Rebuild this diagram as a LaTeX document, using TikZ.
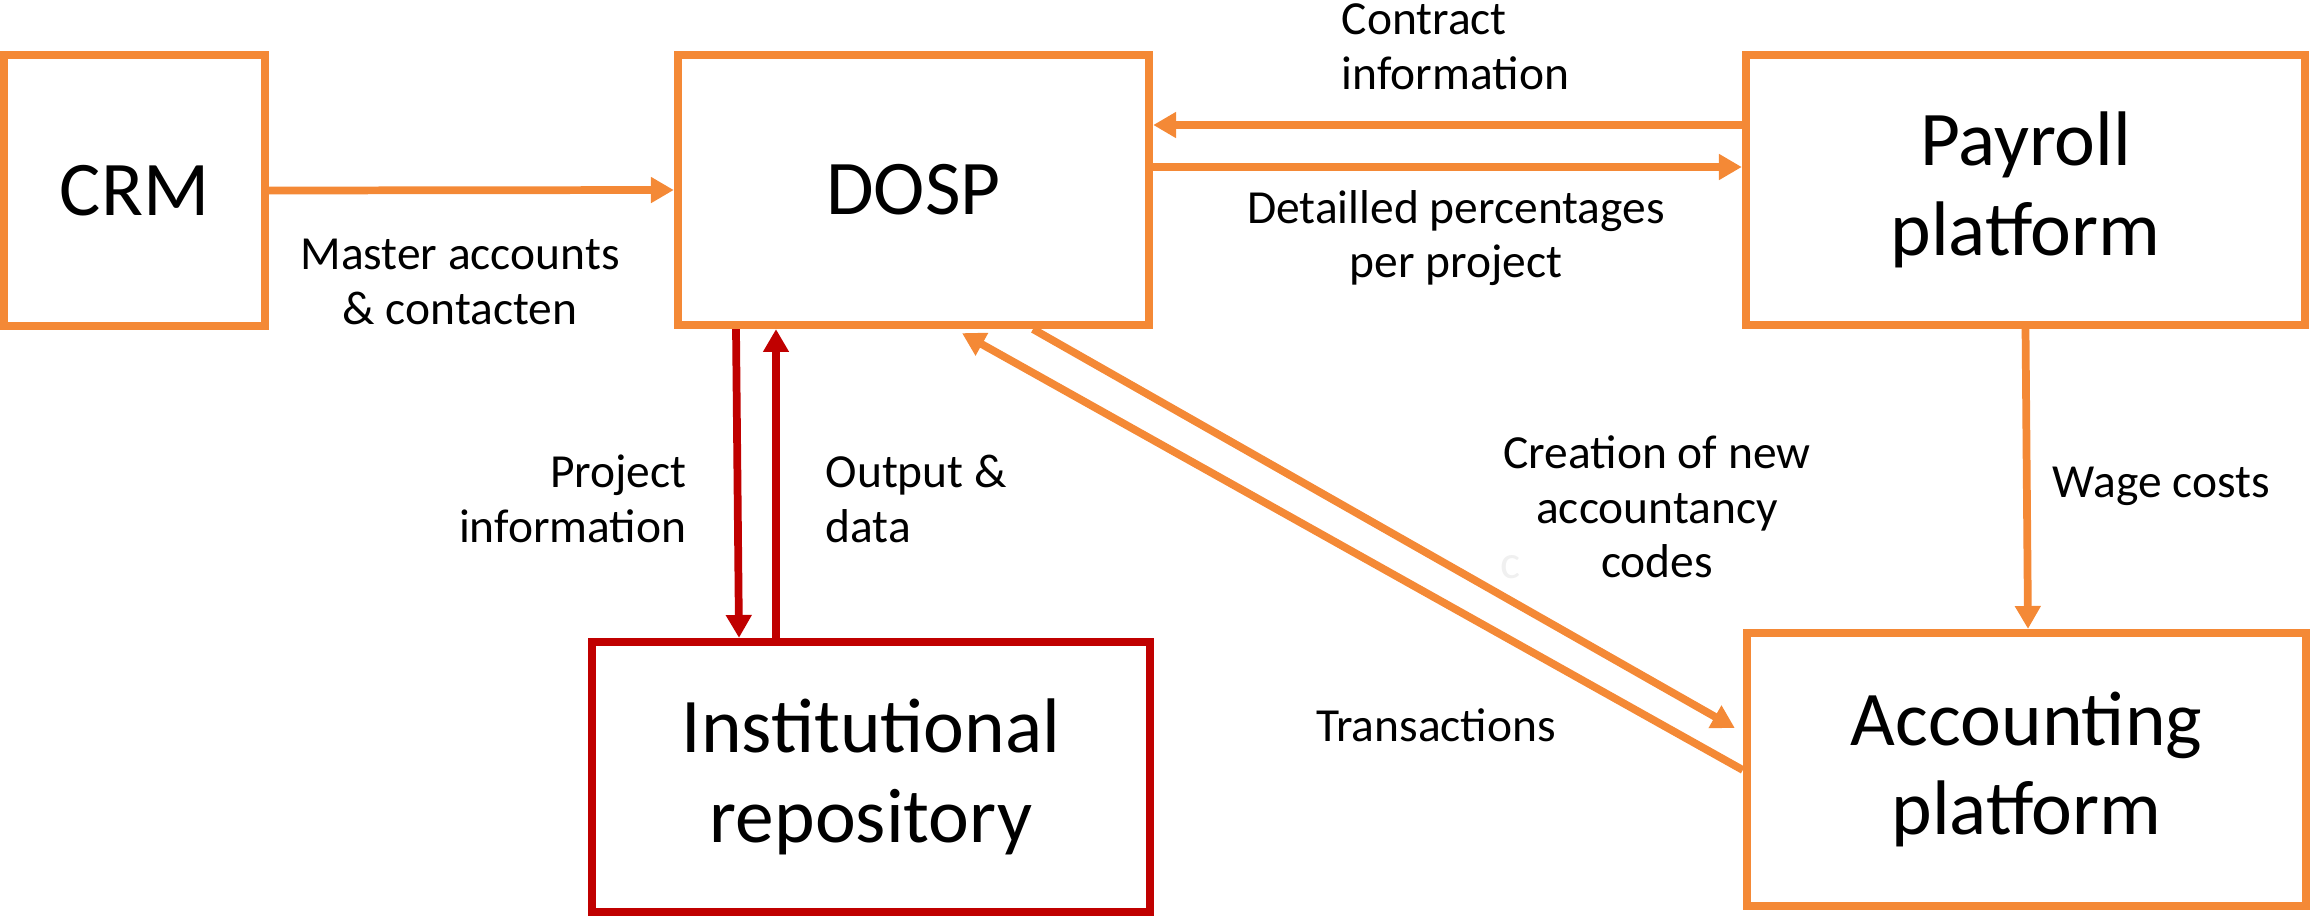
\documentclass[tikz,border=0pt]{standalone}
\usepackage{fontspec}
\setmainfont{Carlito}
\usetikzlibrary{arrows.meta,calc}
\definecolor{org}{RGB}{244,137,54}
\definecolor{dred}{RGB}{192,0,0}
\begin{document}
\begin{tikzpicture}[x=0.01cm,y=-0.01cm,
  box/.style={draw=org,line width=2.3pt,rectangle,align=center,inner sep=0pt,
    font=\fontsize{22}{25.5}\selectfont},
  lbl/.style={inner sep=0pt,font=\fontsize{13.5}{15.5}\selectfont},
  oarr/.style={draw=org,line width=2.2pt,-{Triangle[length=6.5pt,width=7pt]}},
  rarr/.style={draw=dred,line width=2.2pt,-{Triangle[length=6.5pt,width=7pt]}}]
\useasboundingbox (0,0) rectangle (2310,918);
% boxes
\node[box,minimum width=2.61cm,minimum height=2.71cm] (crm) at (134.5,190.5) {CRM};
\node[box,minimum width=4.71cm,minimum height=2.70cm] (dosp) at (913.5,190) {DOSP};
\node[box,minimum width=5.59cm,minimum height=2.70cm] (pay) at (2025.5,190) {Payroll\\platform};
\node[box,draw=dred,minimum width=5.58cm,minimum height=2.70cm] (ir) at (871,777) {Institutional\\repository};
\node[box,minimum width=5.59cm,minimum height=2.73cm] (acc) at (2026.5,769.5) {Accounting\\platform};
% labels
\node[lbl,align=center] (lma) at (460,282) {Master accounts\\\& contacten};
\node[lbl,align=left,anchor=west] (lci) at (1341,47) {Contract\\information};
\node[lbl,align=center] (ldp) at (1456,238) {Detailled percentages\\per project};
\node[lbl,align=right,anchor=east] (lpi) at (687,499) {Project\\information};
\node[lbl,align=left,anchor=west] (lod) at (825,499) {Output \&\\data};
\node[lbl,align=center] (lcr) at (1657,507) {Creation of new\\accountancy\\codes};
\node[lbl,text=black!6] (lc) at (1511,567) {c};
\node[lbl,anchor=west] (lwc) at (2052,486) {Wage costs};
\node[lbl] (ltr) at (1436,725) {Transactions};
% connectors
\draw[oarr] (crm.east) -- (dosp.west);
\draw[oarr] ($(pay.west)+(0,-65)$) -- ($(dosp.east)+(0,-65)$);
\draw[oarr] ($(dosp.east)+(0,-23)$) -- ($(pay.west)+(0,-23)$);
\draw[rarr] ($(dosp.south)+(-177.5,0)$) -- ($(ir.north)+(-132,0)$);
\draw[rarr] ($(ir.north)+(-95,0)$) -- ($(dosp.south)+(-137.5,0)$);
\draw[oarr] (pay.south) -- ($(acc.north)+(1.5,0)$);
\draw[oarr] ($(dosp.south)+(119.5,0)$) -- ($(acc.west)+(-8,-41.5)$);
\draw[oarr] ($(acc.west)+(0,0.5)$) -- ($(dosp.south)+(48.5,4)$);
\end{tikzpicture}
\end{document}
